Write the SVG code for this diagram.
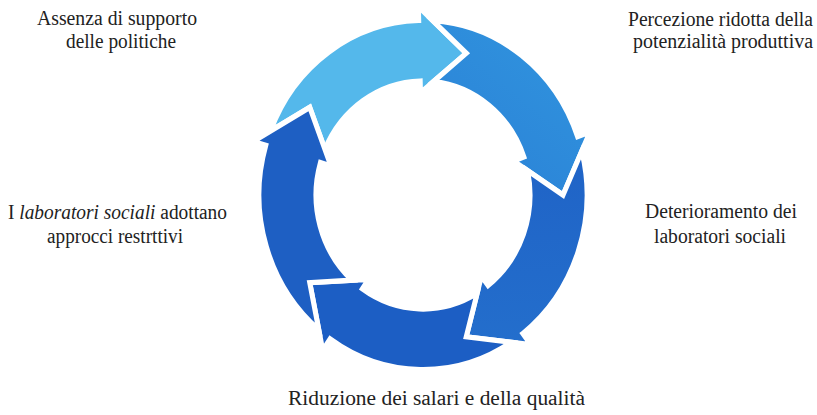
<svg xmlns="http://www.w3.org/2000/svg" xmlns:xlink="http://www.w3.org/1999/xlink" width="817" height="415" viewBox="0 0 817 415">
  <style>
    .lbl { font-family: "Liberation Serif", "Times New Roman", serif; font-size: 20px; fill: #222222; text-anchor: middle; }
    .arr { stroke: #ffffff; stroke-width: 5; stroke-linejoin: miter; }
  </style>
  <defs>
    <path id="arrow" d="M -151.03 -63.93 A 164 164 0 0 1 0 -164 L 0 -177 L 46.73 -131.97 L 0 -96 L 0 -107 A 107 107 0 0 0 -96.90 -45.39 L -111.07 -85.23 Z"/>
    <linearGradient id="gB" x1="0" y1="0" x2="1" y2="1">
      <stop offset="0" stop-color="#3196df"/>
      <stop offset="1" stop-color="#2a80d6"/>
    </linearGradient>
    <linearGradient id="gC" x1="1" y1="0" x2="0" y2="1">
      <stop offset="0" stop-color="#2470cd"/>
      <stop offset="1" stop-color="#1f62c6"/>
    </linearGradient>
  </defs>
  <rect width="817" height="415" fill="#ffffff"/>
  <g id="connectors" transform="translate(423,195) scale(1,1.065)">
    <use id="arrow-a" xlink:href="#arrow" class="arr" fill="#54b8eb" transform="rotate(-1.5)"/>
    <use id="arrow-b" xlink:href="#arrow" class="arr" fill="url(#gB)" transform="rotate(70.5)"/>
    <use id="arrow-c" xlink:href="#arrow" class="arr" fill="url(#gC)" transform="rotate(142.5)"/>
    <use id="arrow-d" xlink:href="#arrow" class="arr" fill="#1c5ec4" transform="rotate(214.5)"/>
    <use id="arrow-e" xlink:href="#arrow" class="arr" fill="#1e5fc3" transform="rotate(286.5)"/>
  </g>
  <g id="node-assenza">
    <text class="lbl" x="117" y="25" textLength="160" lengthAdjust="spacingAndGlyphs">Assenza di supporto</text>
    <text class="lbl" x="121" y="48" textLength="110" lengthAdjust="spacingAndGlyphs">delle politiche</text>
  </g>
  <g id="node-percezione">
    <text class="lbl" x="720.5" y="26" textLength="185" lengthAdjust="spacingAndGlyphs">Percezione ridotta della</text>
    <text class="lbl" x="723" y="48" textLength="180" lengthAdjust="spacingAndGlyphs">potenzialità produttiva</text>
  </g>
  <g id="node-deterioramento">
    <text class="lbl" x="721" y="218" textLength="152" lengthAdjust="spacingAndGlyphs">Deterioramento dei</text>
    <text class="lbl" x="720" y="243" textLength="132" lengthAdjust="spacingAndGlyphs">laboratori sociali</text>
  </g>
  <g id="node-riduzione">
    <text class="lbl" x="436.5" y="405" textLength="297" lengthAdjust="spacingAndGlyphs">Riduzione dei salari e della qualità</text>
  </g>
  <g id="node-laboratori">
    <text class="lbl" x="117.5" y="219" textLength="219" lengthAdjust="spacingAndGlyphs">I <tspan font-style="italic">laboratori sociali</tspan> adottano</text>
    <text class="lbl" x="115" y="243" textLength="136" lengthAdjust="spacingAndGlyphs">approcci restrttivi</text>
  </g>
</svg>
